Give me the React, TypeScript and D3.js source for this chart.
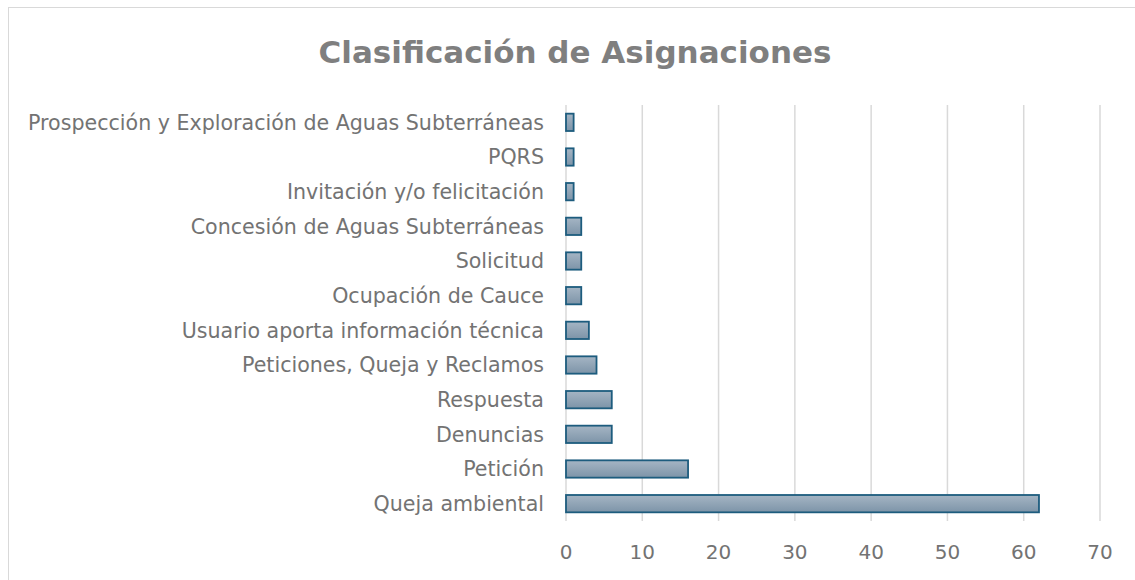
import { useEffect, useRef } from 'react';
import * as d3 from 'd3';

const categories = [
    'Prospección y Exploración de Aguas Subterráneas',
    'PQRS',
    'Invitación y/o felicitación',
    'Concesión de Aguas Subterráneas',
    'Solicitud',
    'Ocupación de Cauce',
    'Usuario aporta información técnica',
    'Peticiones, Queja y Reclamos',
    'Respuesta',
    'Denuncias',
    'Petición',
    'Queja ambiental',
];
const values = [1, 1, 1, 2, 2, 2, 3, 4, 6, 6, 16, 62];
const xTicks = [0, 10, 20, 30, 40, 50, 60, 70];
const title = 'Clasificación de Asignaciones';

const FONT = 'DejaVu Sans, sans-serif';

export default function App() {
    const svgRef = useRef<SVGSVGElement>(null);

    useEffect(() => {
        if (!svgRef.current) return;
        const width = 1135;
        const height = 580;
        const svg = d3.select(svgRef.current);
        svg.selectAll('*').remove();

        const margin = { top: 105, right: 35, bottom: 59, left: 566 };
        const innerWidth = width - margin.left - margin.right;
        const innerHeight = height - margin.top - margin.bottom;

        // chart frame
        svg.append('rect')
            .attr('x', 8.5)
            .attr('y', 7.5)
            .attr('width', 1200)
            .attr('height', 700)
            .attr('fill', '#fff')
            .attr('stroke', '#d9d9d9')
            .attr('stroke-width', 1);

        const defs = svg.append('defs');
        const grad = defs
            .append('linearGradient')
            .attr('id', 'barGrad')
            .attr('x1', 0)
            .attr('y1', 0)
            .attr('x2', 0)
            .attr('y2', 1);
        grad.append('stop').attr('offset', '0%').attr('stop-color', '#a5b5c4');
        grad.append('stop').attr('offset', '100%').attr('stop-color', '#7d94a8');

        svg.append('text')
            .attr('x', 575)
            .attr('y', 63)
            .attr('text-anchor', 'middle')
            .attr('font-family', FONT)
            .attr('font-weight', 'bold')
            .attr('font-size', '31px')
            .attr('fill', '#7f7f7f')
            .text(title);

        const g = svg.append('g').attr('transform', `translate(${margin.left},${margin.top})`);

        const x = d3.scaleLinear().domain([0, 70]).range([0, innerWidth]);
        const y = d3.scaleBand<string>().domain(categories).range([0, innerHeight]).paddingInner(0.5).paddingOuter(0.25);

        // grid
        g.selectAll('.grid')
            .data(xTicks)
            .enter()
            .append('line')
            .attr('x1', (d) => x(d))
            .attr('x2', (d) => x(d))
            .attr('y1', 0)
            .attr('y2', innerHeight)
            .attr('stroke', '#d9d9d9')
            .attr('stroke-width', 1.5);

        // bars
        g.selectAll('.bar')
            .data(values)
            .enter()
            .append('rect')
            .attr('x', x(0))
            .attr('y', (_, i) => y(categories[i]) as number)
            .attr('width', (d) => x(d) - x(0))
            .attr('height', y.bandwidth())
            .attr('fill', 'url(#barGrad)')
            .attr('stroke', '#1d5c7e')
            .attr('stroke-width', 1.8);

        // category labels
        g.selectAll('.cat')
            .data(categories)
            .enter()
            .append('text')
            .attr('x', -22)
            .attr('y', (d) => (y(d) as number) + y.bandwidth() / 2)
            .attr('dy', '0.36em')
            .attr('text-anchor', 'end')
            .attr('font-family', FONT)
            .attr('font-size', '20.6px')
            .attr('fill', '#737373')
            .text((d) => d);

        // x tick labels
        g.selectAll('.xt')
            .data(xTicks)
            .enter()
            .append('text')
            .attr('x', (d) => x(d))
            .attr('y', innerHeight + 38)
            .attr('text-anchor', 'middle')
            .attr('font-family', FONT)
            .attr('font-size', '20px')
            .attr('fill', '#737373')
            .text((d) => d);
    }, []);

    return (
        <svg
            ref={svgRef}
            width={1135}
            height={580}
            style={{ position: 'absolute', left: 0, top: 0, display: 'block' }}
        />
    );
}
